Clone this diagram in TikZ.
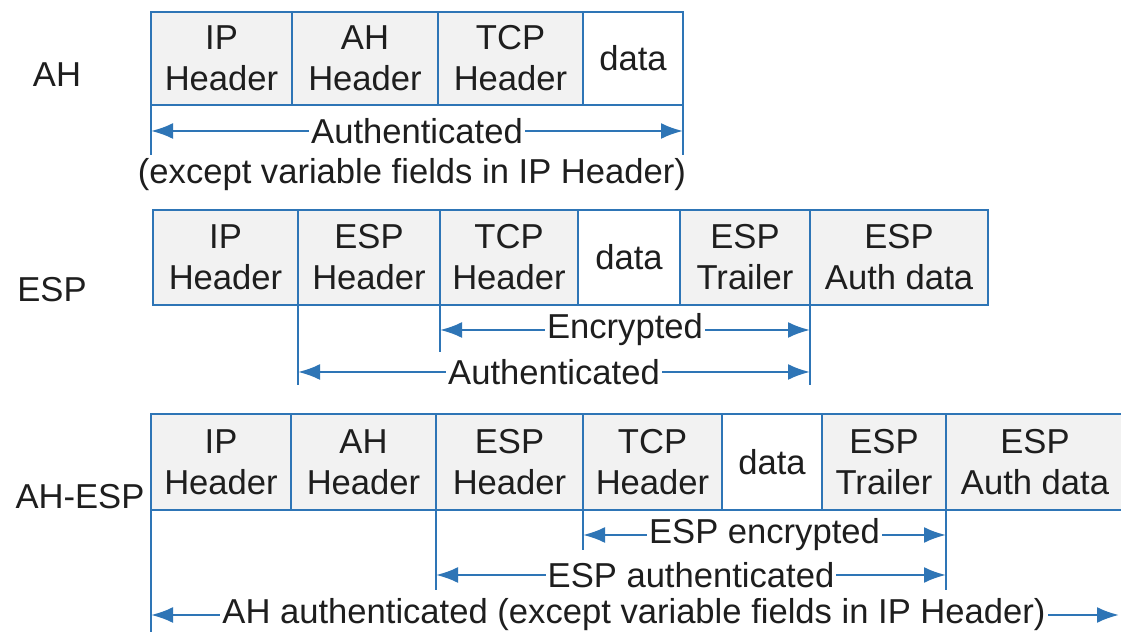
\documentclass[tikz,border=0pt]{standalone}
\usepackage{fontspec}
\setmainfont{Liberation Sans}
\usetikzlibrary{arrows.meta}
\definecolor{lblue}{RGB}{46,117,182}
\definecolor{cellgray}{RGB}{242,242,242}
\definecolor{txt}{RGB}{30,30,30}
\begin{document}
\begin{tikzpicture}[x=0.5pt,y=-0.5pt,
  fnt/.style={font=\fontsize{17.3}{20.5}\selectfont, text=txt},
  cell/.style={fnt, draw=lblue, line width=1.25pt, fill=cellgray, inner sep=0pt, outer sep=0pt, align=center},
  dcell/.style={cell, fill=white},
  w/.style={minimum width={#1*0.5pt}},
  h/.style={minimum height={#1*0.5pt}},
  vline/.style={draw=lblue, line width=1.25pt},
  arr/.style={draw=lblue, line width=1.25pt, {Latex[length=11pt,width=8pt]}-{Latex[length=11pt,width=8pt]}},
  lbl/.style={fnt, fill=white, inner xsep=1pt, inner ysep=0pt},
  rowlbl/.style={fnt, inner sep=0pt}
]
\useasboundingbox (0,0) rectangle (1121,635);
\fill[white] (0,0) rectangle (1121,635);

% ---------- Row 1: AH ----------
\node[rowlbl] (lAH) at (57,75) {AH};
\node[cell,w=141,h=93] (a1) at (221.5,58.5) {IP\\Header};
\node[cell,w=146,h=93] (a2) at (365,58.5) {AH\\Header};
\node[cell,w=145,h=93] (a3) at (510.5,58.5) {TCP\\Header};
\node[dcell,w=100,h=93] (a4) at (633,58.5) {data};

\coordinate (a1v) at (151,155);
\coordinate (a4v) at (683,155);
\draw[vline] (a1.south west) -- (a1v);
\draw[vline] (a4.south east) -- (a4v);
\coordinate (aL) at (151,131);
\coordinate (aR) at (683,131);
\draw[arr] (aL) -- node[lbl] (aT) {Authenticated} (aR);
\node[fnt, inner sep=0pt] (aT2) at (412,175) {(except variable fields in IP Header)};

% ---------- Row 2: ESP ----------
\node[rowlbl] (lESP) at (52,290) {ESP};
\node[cell,w=145,h=95] (b1) at (225.5,257.5) {IP\\Header};
\node[cell,w=142,h=95] (b2) at (369,257.5) {ESP\\Header};
\node[cell,w=138,h=95] (b3) at (509,257.5) {TCP\\Header};
\node[dcell,w=102,h=95] (b4) at (629,257.5) {data};
\node[cell,w=130,h=95] (b5) at (745,257.5) {ESP\\Trailer};
\node[cell,w=178,h=95] (b6) at (899,257.5) {ESP\\Auth data};

\coordinate (b2v) at (298,385);
\coordinate (b3v) at (440,352);
\coordinate (b5v) at (810,385);
\draw[vline] (b2.south west) -- (b2v);
\draw[vline] (b3.south west) -- (b3v);
\draw[vline] (b5.south east) -- (b5v);
\coordinate (bEL) at (440,330);
\coordinate (bER) at (810,330);
\draw[arr] (bEL) -- node[lbl] (bET) {Encrypted} (bER);
\coordinate (bAL) at (298,372);
\coordinate (bAR) at (810,372);
\draw[arr] (bAL) -- node[lbl] (bAT) {Authenticated} (bAR);

% ---------- Row 3: AH-ESP ----------
\node[rowlbl] (lAHESP) at (80,497) {AH-ESP};
\node[cell,w=140,h=96] (c1) at (221,462) {IP\\Header};
\node[cell,w=145,h=96] (c2) at (363.5,462) {AH\\Header};
\node[cell,w=147,h=96] (c3) at (509.5,462) {ESP\\Header};
\node[cell,w=139,h=96] (c4) at (652.5,462) {TCP\\Header};
\node[dcell,w=100,h=96] (c5) at (772,462) {data};
\node[cell,w=124,h=96] (c6) at (884,462) {ESP\\Trailer};
\node[cell,w=178,h=96] (c7) at (1035,462) {ESP\\Auth data};

\coordinate (c1v) at (151,632);
\coordinate (c3v) at (436,590);
\coordinate (c4v) at (583,550);
\coordinate (c6v) at (946,590);
\draw[vline] (c1.south west) -- (c1v);
\draw[vline] (c3.south west) -- (c3v);
\draw[vline] (c4.south west) -- (c4v);
\draw[vline] (c6.south east) -- (c6v);
\coordinate (cEL) at (583,535);
\coordinate (cER) at (946,535);
\draw[arr] (cEL) -- node[lbl] (cET) {ESP encrypted} (cER);
\coordinate (cAL) at (436,575);
\coordinate (cAR) at (946,575);
\draw[arr] (cAL) -- node[lbl] (cAT) {ESP authenticated} (cAR);
\coordinate (cHL) at (151,615);
\coordinate (cHR) at (1119,615);
\draw[arr] (cHL) -- node[lbl, pos=0.499] (cHT) {AH authenticated (except variable fields in IP Header)} (cHR);
\end{tikzpicture}
\end{document}
